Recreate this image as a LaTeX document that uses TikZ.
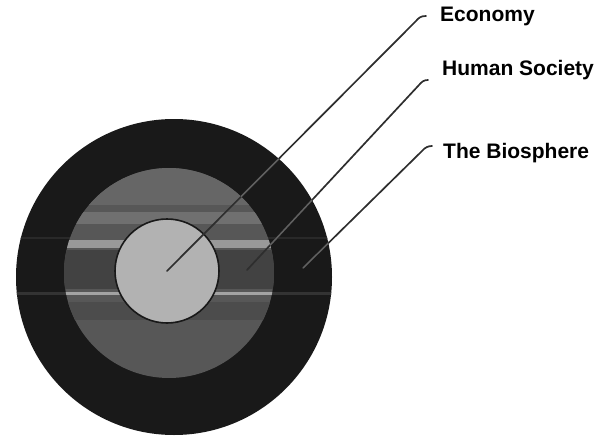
\documentclass[tikz,border=0pt]{standalone}
\usepackage{fontspec}
\setmainfont{Liberation Sans}
\begin{document}
\begin{tikzpicture}[x=1pt,y=-1pt,
  ring/.style={circle, inner sep=0pt, outer sep=0pt, draw=none},
  lbl/.style={anchor=base west, font=\fontsize{21}{25}\selectfont\bfseries, inner sep=0pt},
  leader/.style={draw=black!82, line width=1.7pt, line cap=round},
  faint/.style={draw=black!62, line width=1.4pt, line cap=round}]
\useasboundingbox (0,0) rectangle (602,436);
% rings
\node[ring, fill=black!90, minimum size=316pt] (bio) at (174,277) {};
\begin{scope}
  \clip (174,277) circle (158pt);
  \fill[black!80] (10,292) rectangle (340,294.5);
  \fill[black!84] (10,237) rectangle (340,239);
\end{scope}
\node[ring, fill=black!66, minimum size=210pt] (soc) at (169,273) {};
\begin{scope}
  \clip (169,273) circle (105pt);
  \fill[black!60] (60,168) rectangle (280,205);
  \fill[black!56] (60,212) rectangle (280,224);
  \fill[black!40] (60,240) rectangle (280,248);
  \fill[black!74] (60,250) rectangle (280,289);
  \fill[black!36] (60,292) rectangle (280,294.5);
  \fill[black!70] (60,302) rectangle (280,320);
\end{scope}
\node[ring, fill=black!30, draw=black!90, line width=1.6pt, minimum size=104pt] (eco) at (167,271) {};
% labels
\node[lbl] (econ) at (440,22) {Economy};
\node[lbl] (hsoc) at (442,75) {Human Society};
\node[lbl] (bios) at (443,158) {The Biosphere};
% leader coordinates
\coordinate (e0) at (167,271);
\coordinate (e1) at (416,21);
\coordinate (e2) at (426,16);
\coordinate (h0) at (247,270);
\coordinate (h1) at (419,85);
\coordinate (h2) at (428,80);
\coordinate (b0) at (303,268);
\coordinate (b1) at (422,151);
\coordinate (b2) at (432,146);
% leaders
\draw[leader] (e0) -- (e1) .. controls (419,17.5) and (421,16) .. (e2);
\draw[leader] (h0) -- (h1) .. controls (422,81.5) and (424,80) .. (h2);
\draw[leader] (b0) -- (b1) .. controls (425,147.5) and (428,146) .. (b2);
% leaders look lighter over the dark outer ring
\begin{scope}[even odd rule]
  \clip (174,277) circle (158pt) (169,273) circle (105pt);
  \draw[faint] (e0) -- (e1);
  \draw[faint] (h0) -- (h1);
  \draw[faint] (b0) -- (b1);
\end{scope}
\end{tikzpicture}
\end{document}
